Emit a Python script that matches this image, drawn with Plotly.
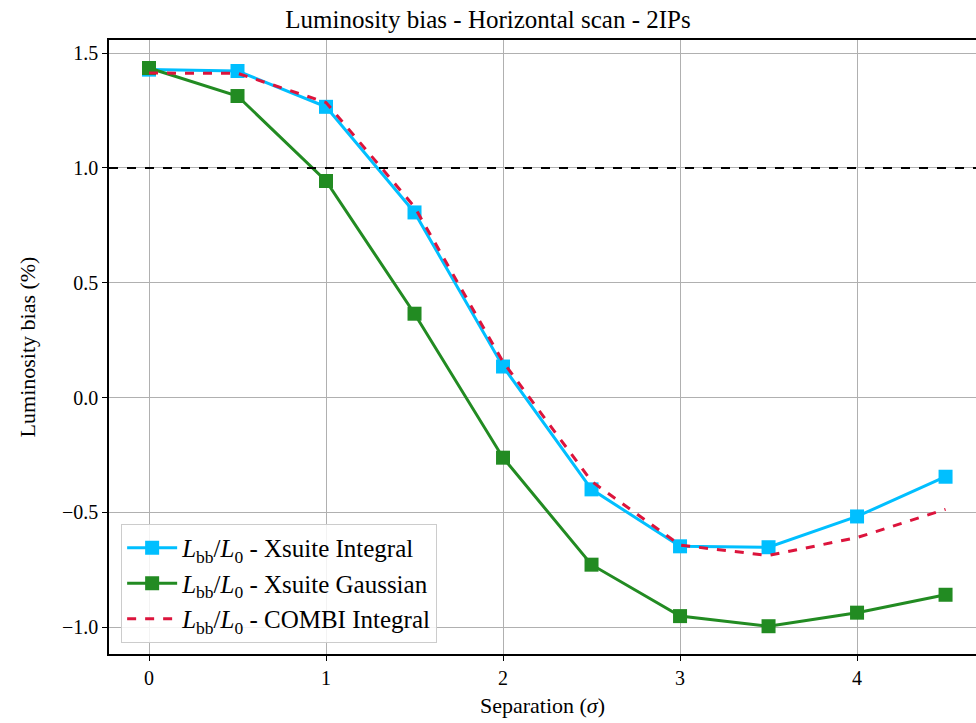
import plotly.graph_objects as go

separation = [0, 0.5, 1, 1.5, 2, 2.5, 3, 3.5, 4, 4.5]
xsuite_integral = [1.428, 1.422, 1.266, 0.806, 0.135, -0.400, -0.648, -0.652, -0.518, -0.345]
xsuite_gaussian = [1.435, 1.313, 0.943, 0.365, -0.262, -0.728, -0.952, -0.996, -0.937, -0.859]
combi_integral = [1.413, 1.412, 1.285, 0.830, 0.155, -0.365, -0.643, -0.688, -0.610, -0.487]
reference_level = 1.0

x_ticks = [0, 1, 2, 3, 4]
y_ticks = [-1.0, -0.5, 0.0, 0.5, 1.0, 1.5]
y_ticklabels = ["\u22121.0", "\u22120.5", "0.0", "0.5", "1.0", "1.5"]

FONT = "Liberation Serif"
lab = "<i>L</i><sub>bb</sub>/<i>L</i><sub>0</sub> - "

fig = go.Figure()
fig.add_trace(go.Scatter(
    x=separation, y=xsuite_integral, mode="lines+markers",
    name=lab + "Xsuite Integral",
    line=dict(color="#00BFFF", width=3),
    marker=dict(symbol="square", size=14, color="#00BFFF"),
))
fig.add_trace(go.Scatter(
    x=separation, y=xsuite_gaussian, mode="lines+markers",
    name=lab + "Xsuite Gaussian",
    line=dict(color="#228B22", width=3),
    marker=dict(symbol="square", size=14, color="#228B22"),
))
fig.add_trace(go.Scatter(
    x=separation, y=combi_integral, mode="lines",
    name=lab + "COMBI Integral",
    line=dict(color="#DC143C", width=3, dash="dash"),
))

fig.add_hline(y=reference_level, line=dict(color="black", width=2, dash="dash"), layer="above")

fig.update_layout(
    width=976, height=723,
    margin=dict(l=109, r=0, t=40, b=69),
    paper_bgcolor="white", plot_bgcolor="white",
    font=dict(family=FONT, size=20, color="black"),
    title=dict(text="Luminosity bias - Horizontal scan - 2IPs", x=0.5, xanchor="center",
               y=1 - 19 / 723, yanchor="middle", font=dict(size=25, family=FONT)),
    showlegend=True,
    legend=dict(x=0.014, y=0.018, xanchor="left", yanchor="bottom",
                bgcolor="rgba(255,255,255,0.85)", bordercolor="#cccccc", borderwidth=1,
                font=dict(size=25, family=FONT), tracegroupgap=0, itemwidth=50),
)
fig.update_xaxes(
    range=[-0.226, 4.672], tickvals=x_ticks, ticktext=[str(t) for t in x_ticks],
    showgrid=True, gridcolor="#b0b0b0", gridwidth=1, zeroline=False,
    showline=True, linecolor="black", linewidth=1.5, mirror=True,
    ticks="outside", ticklen=5, tickcolor="black",
    title=dict(text="Separation (<i>σ</i>)", font=dict(size=22, family=FONT), standoff=10),
)
fig.update_yaxes(
    range=[-1.117, 1.557], tickvals=y_ticks, ticktext=y_ticklabels,
    showgrid=True, gridcolor="#b0b0b0", gridwidth=1, zeroline=False,
    showline=True, linecolor="black", linewidth=1.5,
    ticks="outside", ticklen=5, tickcolor="black",
    title=dict(text="Luminosity bias (%)", font=dict(size=22, family=FONT), standoff=20),
)

fig.write_html("out.html")
